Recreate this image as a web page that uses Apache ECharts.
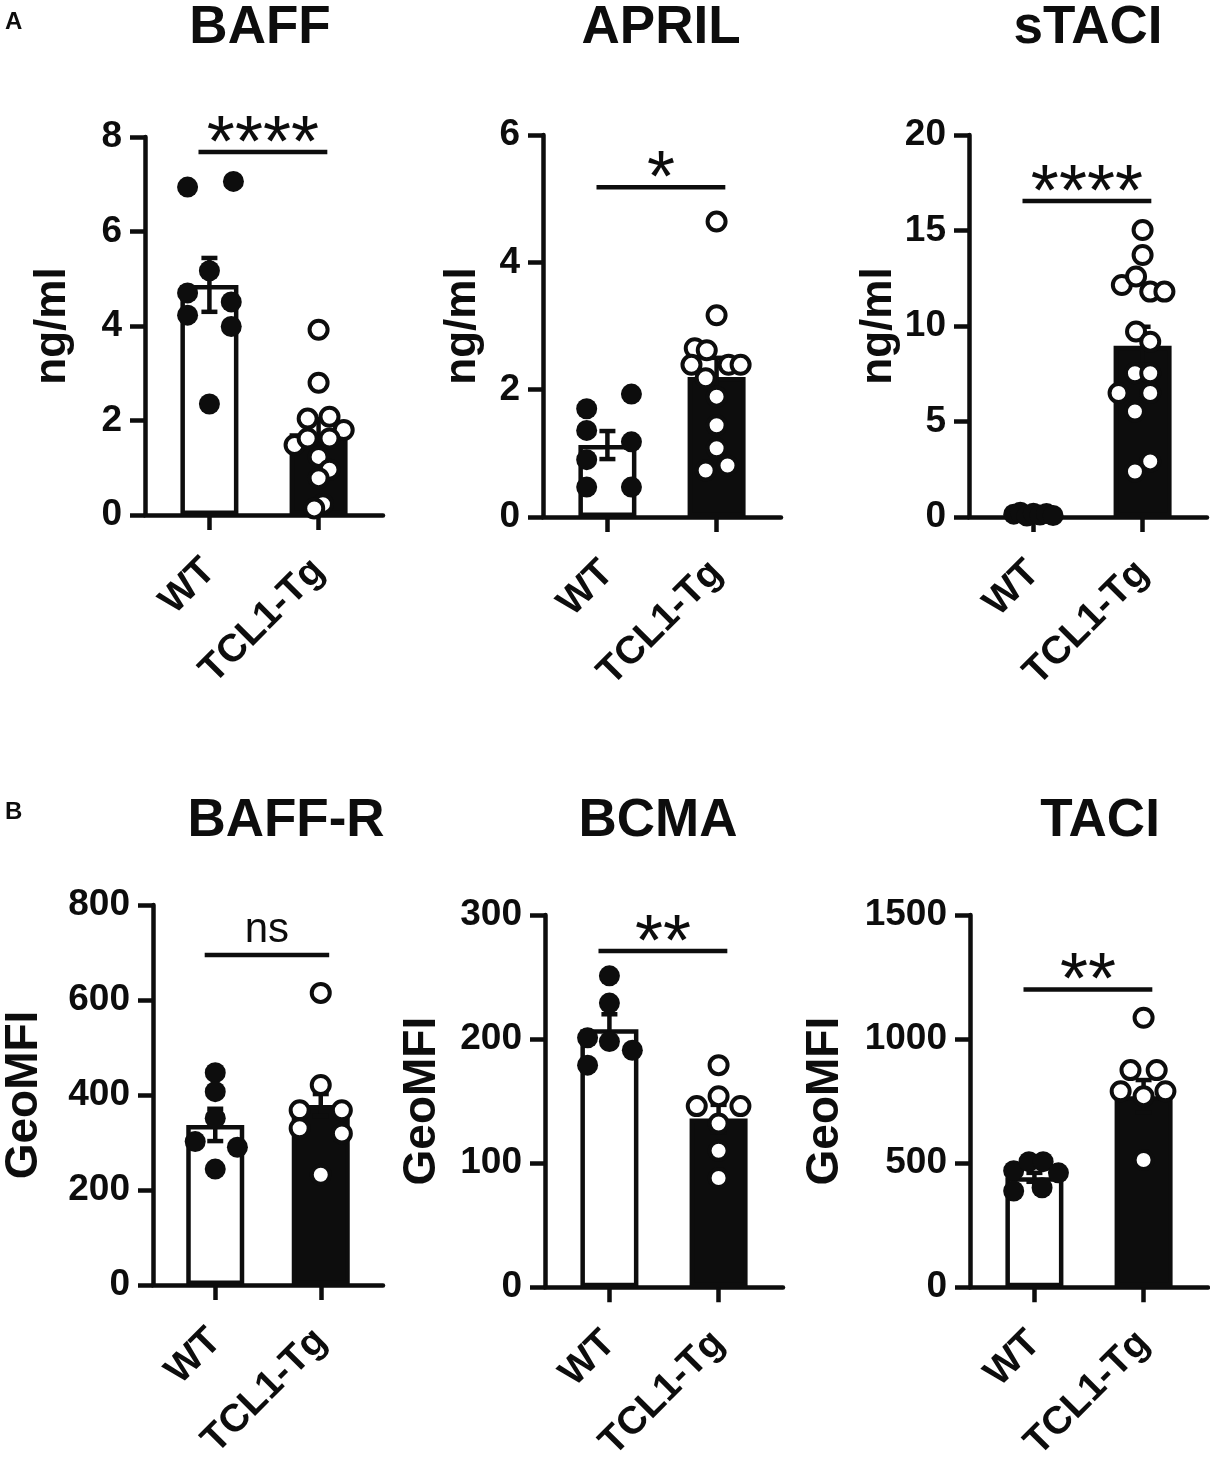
<!DOCTYPE html>
<html>
<head>
<meta charset="utf-8">
<title>BAFF / APRIL / TACI</title>
<script src="https://cdn.jsdelivr.net/npm/echarts@6/dist/echarts.min.js"></script>
<style>
  html, body { margin: 0; padding: 0; background: #fff; }
  #main { width: 1210px; height: 1465px; }
</style>
</head>
<body>
<div id="main"></div>
<script type="text/javascript">
// groups on the x axis (WT at 1, TCL1-Tg at 2)
var groups = ['WT', 'TCL1-Tg'];

// ---- panel A: serum levels (ng/ml) ----
var baffWT   = [6.94, 7.06, 5.17, 4.70, 4.51, 4.23, 3.99, 2.35];
var baffWTx  = [-0.2, 0.22, 0, -0.2, 0.2, -0.2, 0.2, 0];
var baffTg   = [3.92, 2.80, 2.04, 2.08, 1.80, 1.48, 1.62, 1.62, 1.23, 0.96, 0.78, 0.23, 0.14];
var baffTgx  = [0, 0, -0.1, 0.1, 0.23, -0.22, -0.1, 0.1, 0, 0.1, 0, 0.04, -0.04];
var baffBar  = [4.87, 1.73];
var baffSem  = [0.57, 0.30];

var aprilWT  = [1.70, 1.93, 1.36, 1.18, 0.90, 0.47, 0.47];
var aprilWTx = [-0.19, 0.22, -0.19, 0.22, -0.19, -0.19, 0.22];
var aprilTg  = [4.64, 3.17, 2.65, 2.62, 2.39, 2.39, 2.39, 2.18, 1.89, 1.44, 1.08, 0.73, 0.81];
var aprilTgx = [0, 0, -0.2, -0.09, -0.23, 0.11, 0.22, -0.1, 0, 0, 0, -0.1, 0.1];
var aprilBar = [1.13, 2.20];
var aprilSem = [0.22, 0.30];

var staciWT  = [0.15, 0.25, 0.05, 0.20, 0.10, 0.18, 0.08];
var staciWTx = [-0.18, -0.12, -0.06, 0, 0.06, 0.12, 0.18];
var staciTg  = [15.03, 13.72, 12.15, 12.59, 11.80, 11.80, 9.71, 9.18, 7.53, 7.53, 6.49, 6.49, 5.52, 2.91, 2.38];
var staciTgx = [0, 0, -0.19, -0.06, 0.07, 0.2, -0.06, 0.07, -0.07, 0.07, -0.22, 0.07, -0.07, 0.07, -0.07];
var staciBar = [0.14, 8.96];
var staciSem = [0.03, 1.0];

// ---- panel B: receptor expression (GeoMFI) ----
var baffrWT  = [447, 407, 351, 302, 290, 244];
var baffrWTx = [0, 0, 0, -0.19, 0.21, 0];
var baffrTg  = [615, 421, 368, 368, 330, 319, 232];
var baffrTgx = [0, 0, -0.2, 0.2, -0.2, 0.2, 0];
var baffrBar = [337, 379];
var baffrSem = [34, 23];

var bcmaWT   = [251, 229, 201, 198, 191, 179];
var bcmaWTx  = [0, 0, -0.2, 0, 0.21, -0.2];
var bcmaTg   = [179, 146, 154, 146, 132, 110, 88];
var bcmaTgx  = [0, -0.2, 0, 0.2, 0, 0, 0];
var bcmaBar  = [208, 136];
var bcmaSem  = [12, 11];

var taciWT   = [470, 506, 506, 461, 388, 401];
var taciWTx  = [-0.19, -0.05, 0.08, 0.22, -0.19, 0.07];
var taciTg   = [1086, 875, 875, 790, 790, 770, 513];
var taciTgx  = [0, -0.12, 0.12, -0.21, 0.2, 0, 0];
var taciBar  = [443, 770];
var taciSem  = [18, 65];

// axes and annotations
var titles  = ['BAFF', 'APRIL', 'sTACI', 'BAFF-R', 'BCMA', 'TACI'];
var yNames  = ['ng/ml', 'ng/ml', 'ng/ml', 'GeoMFI', 'GeoMFI', 'GeoMFI'];
var yMax    = [8, 6, 20, 800, 300, 1500];
var yStep   = [2, 2, 5, 200, 100, 500];
var sigText = ['****', '*', '****', 'ns', '**', '**'];
var sigY    = [7.68, 5.18, 16.55, 695, 271, 1200];

var wtVals = [baffWT, aprilWT, staciWT, baffrWT, bcmaWT, taciWT];
var wtXs   = [baffWTx, aprilWTx, staciWTx, baffrWTx, bcmaWTx, taciWTx];
var tgVals = [baffTg, aprilTg, staciTg, baffrTg, bcmaTg, taciTg];
var tgXs   = [baffTgx, aprilTgx, staciTgx, baffrTgx, bcmaTgx, taciTgx];
var bars   = [baffBar, aprilBar, staciBar, baffrBar, bcmaBar, taciBar];
var sems   = [baffSem, aprilSem, staciSem, baffrSem, bcmaSem, taciSem];

// layout (pixels)
var grids = [
    { left: 145, top: 137, width: 238, height: 378 },
    { left: 543, top: 135, width: 238, height: 382 },
    { left: 969, top: 135, width: 238, height: 382 },
    { left: 145, top: 905, width: 238, height: 380 },
    { left: 545, top: 915, width: 238, height: 380 },
    { left: 970, top: 915, width: 238, height: 380 }
];
var nameGaps = [70, 58, 64, 106, 100, 122];
var titleX = [260, 661, 1088, 286, 658, 1100];
var titleY = [2, 2, 2, 795, 795, 795];

var INK = '#0d0d0d';
var FONT = '"Liberation Sans", Arial, Helvetica, sans-serif';

var myChart = echarts.init(document.getElementById('main'));

var xAxes = [], yAxes = [], series = [], graphics = [];

for (var i = 0; i < 6; i++) {
    xAxes.push({
        gridIndex: i,
        type: 'value',
        min: 0.41,
        max: 2.59,
        axisLine: { show: true, lineStyle: { color: INK, width: 4.5 } },
        axisTick: { show: true, customValues: [1, 2], length: 15, lineStyle: { color: INK, width: 4.5 } },
        axisLabel: {
            customValues: [1, 2],
            rotate: 45,
            margin: 50,
            color: INK,
            fontFamily: FONT,
            fontWeight: 'bold',
            fontSize: 39,
            formatter: function (v) { return groups[Math.round(v) - 1]; }
        },
        splitLine: { show: false }
    });
    yAxes.push({
        gridIndex: i,
        type: 'value',
        min: 0,
        max: yMax[i],
        interval: yStep[i],
        name: yNames[i],
        nameLocation: 'middle',
        nameRotate: 90,
        nameGap: nameGaps[i],
        nameTextStyle: { color: INK, fontFamily: FONT, fontWeight: 'bold', fontSize: i < 3 ? 44 : 46 },
        axisLine: { show: true, lineStyle: { color: INK, width: 4.5 } },
        axisTick: { show: true, length: 15, lineStyle: { color: INK, width: 4.5 } },
        axisLabel: {
            color: INK, fontFamily: FONT, fontWeight: 'bold', fontSize: 37, margin: 23,
            formatter: function (v) { return String(v); }
        },
        splitLine: { show: false }
    });

    // mean bars
    series.push({
        type: 'bar',
        xAxisIndex: i,
        yAxisIndex: i,
        barWidth: 58,
        z: 2,
        silent: true,
        data: [
            { value: [1, bars[i][0]], itemStyle: { color: '#fff', borderColor: INK, borderWidth: 4.5 } },
            { value: [2, bars[i][1]], itemStyle: { color: INK, borderColor: INK, borderWidth: 4.5 } }
        ]
    });

    // SEM error bars
    series.push({
        type: 'custom',
        xAxisIndex: i,
        yAxisIndex: i,
        z: 3,
        silent: true,
        encode: { x: 0, y: [1, 2] },
        data: [
            [1, bars[i][0] - sems[i][0], bars[i][0] + sems[i][0]],
            [2, bars[i][1] - sems[i][1], bars[i][1] + sems[i][1]]
        ],
        renderItem: function (params, api) {
            var hi = api.coord([api.value(0), api.value(2)]);
            var lo = api.coord([api.value(0), api.value(1)]);
            var half = 8;
            var st = { stroke: INK, lineWidth: 4.5 };
            return {
                type: 'group',
                children: [
                    { type: 'line', shape: { x1: hi[0], y1: hi[1], x2: lo[0], y2: lo[1] }, style: st },
                    { type: 'line', shape: { x1: hi[0] - half, y1: hi[1], x2: hi[0] + half, y2: hi[1] }, style: st },
                    { type: 'line', shape: { x1: lo[0] - half, y1: lo[1], x2: lo[0] + half, y2: lo[1] }, style: st }
                ]
            };
        }
    });

    // individual mice
    series.push({
        type: 'scatter',
        xAxisIndex: i,
        yAxisIndex: i,
        z: 4,
        clip: false,
        symbolSize: 21,
        itemStyle: { color: INK, opacity: 1 },
        data: wtVals[i].map(function (v, k) { return [1 + wtXs[i][k], v]; })
    });
    series.push({
        type: 'scatter',
        xAxisIndex: i,
        yAxisIndex: i,
        z: 4,
        clip: false,
        symbolSize: 18,
        itemStyle: { color: '#fff', borderColor: INK, borderWidth: 4, opacity: 1 },
        data: tgVals[i].map(function (v, k) { return [2 + tgXs[i][k], v]; })
    });

    // significance bracket
    series.push({
        type: 'line',
        xAxisIndex: i,
        yAxisIndex: i,
        silent: true,
        symbol: 'none',
        clip: false,
        lineStyle: { color: INK, width: 4.5 },
        data: [[0.9, sigY[i]], [2.08, sigY[i]]]
    });
    var isStar = sigText[i] !== 'ns';
    series.push({
        type: 'scatter',
        xAxisIndex: i,
        yAxisIndex: i,
        silent: true,
        clip: false,
        symbolSize: 0,
        itemStyle: { color: INK, opacity: 1 },
        data: [[1.49, sigY[i]]],
        label: {
            show: true,
            position: 'inside',
            formatter: sigText[i],
            color: INK,
            opacity: 1,
            textBorderWidth: 0,
            fontFamily: FONT,
            fontWeight: 'normal',
            fontSize: isStar ? 72 : 42,
            offset: isStar ? [0, -6] : [0, -24]
        }
    });

    graphics.push({
        type: 'text',
        x: titleX[i],
        y: titleY[i],
        style: { text: titles[i], fill: INK, font: 'bold 53px ' + FONT, textAlign: 'center', textVerticalAlign: 'top' }
    });
}

graphics.push({ type: 'text', x: 5, y: 10, style: { text: 'A', fill: INK, font: 'bold 24px ' + FONT } });
graphics.push({ type: 'text', x: 5, y: 800, style: { text: 'B', fill: INK, font: 'bold 24px ' + FONT } });

myChart.setOption({
    backgroundColor: '#fff',
    animation: false,
    grid: grids,
    xAxis: xAxes,
    yAxis: yAxes,
    series: series,
    graphic: graphics
});
</script>
</body>
</html>
